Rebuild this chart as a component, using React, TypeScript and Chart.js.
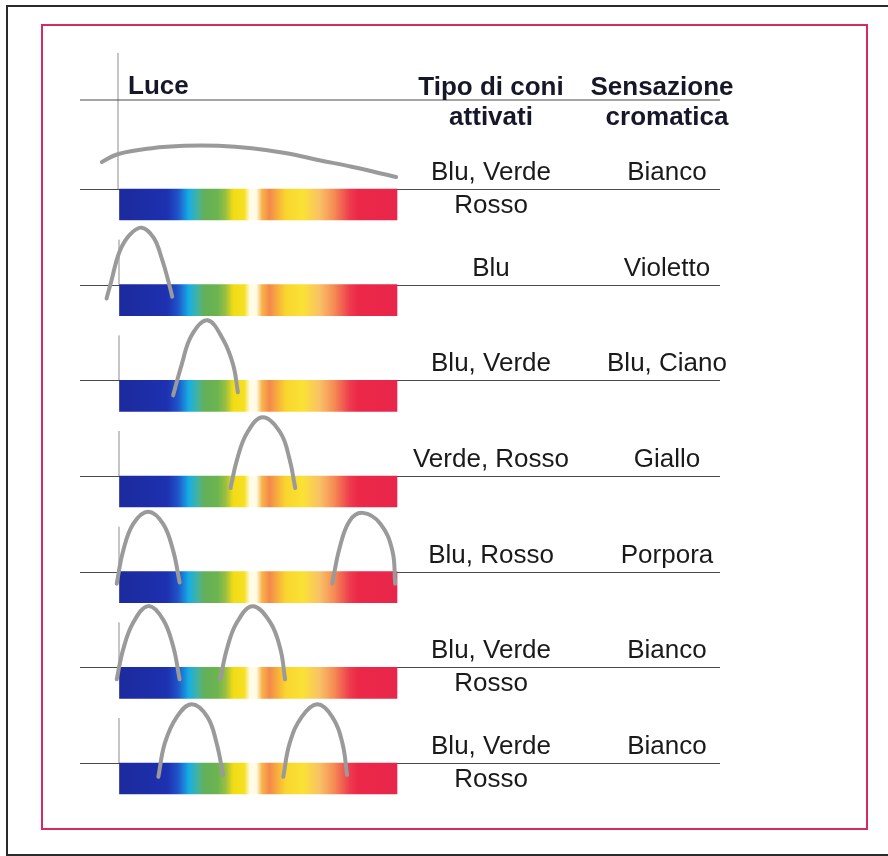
import React, { useEffect, useRef } from "react";
import { Chart, registerables } from "chart.js";

Chart.register(...registerables);

// ---------- data ----------
const HEADER_LIGHT = "Luce";
const HEADER_CONES = ["Tipo di coni", "attivati"];
const HEADER_SENSATION = ["Sensazione", "cromatica"];

const ROW_CONES = ["Blu, Verde", "Blu", "Blu, Verde", "Verde, Rosso", "Blu, Rosso", "Blu, Verde", "Blu, Verde"];
const ROW_CONES_2 = ["Rosso", "", "", "", "", "Rosso", "Rosso"];
const ROW_SENSATION = ["Bianco", "Violetto", "Blu, Ciano", "Giallo", "Porpora", "Bianco", "Bianco"];

// visible spectrum (nm)
const SPECTRUM_START = 400;
const SPECTRUM_END = 700;
const SPECTRUM_NM = [400, 451, 463, 475, 485, 492, 506, 515, 523, 535, 541, 548, 554, 562, 580, 598, 616, 631, 649, 658, 700];
const SPECTRUM_COLORS = [
  "#1c2a9c", "#1d30b0", "#1f52c8", "#16aee4", "#48b39a", "#63b058", "#6cb450", "#9cc040", "#f2dc14",
  "#f7e022", "#fffbe6", "#fffbe6", "#f6b64a", "#f5884a", "#f9d62e", "#fae234", "#f9c266",
  "#f68f55", "#ee3b4e", "#ec2848", "#e8264a",
];

// light stimuli (row index, wavelength nm, relative intensity)
const CURVE_ROWS = [0, 1, 2, 3, 4, 4, 5, 5, 6, 6];
const CURVE_NM = [
  [381, 398, 435, 470, 507, 543, 579, 616, 651, 699],
  [386, 391, 400, 411, 424, 437, 446, 453, 457],
  [458, 467, 478, 495, 512, 523, 528],
  [520, 527, 538, 555, 574, 584, 590],
  [397, 404, 415, 431, 447, 458, 465],
  [630, 638, 649, 663, 682, 695, 698],
  [397, 404, 415, 431, 447, 458, 465],
  [509, 516, 527, 544, 563, 574, 579],
  [442, 449, 462, 478, 495, 505, 512],
  [577, 584, 597, 614, 630, 641, 646],
];
const CURVE_H = [
  [45, 58, 68, 72, 72, 68, 60, 48, 37, 20],
  [-23, 5, 55, 83, 95, 78, 42, 5, -20],
  [-25, 25, 75, 100, 68, 25, -20],
  [-20, 27, 72, 98, 72, 27, -20],
  [-20, 35, 80, 100, 80, 35, -18],
  [-20, 40, 85, 98, 80, 35, -20],
  [-20, 30, 75, 102, 80, 35, -20],
  [-20, 30, 75, 102, 75, 30, -20],
  [-23, 33, 77, 98, 77, 33, -20],
  [-23, 33, 77, 98, 77, 33, -20],
];

// ---------- layout / style ----------
const W = 888;
const H = 856;
const FIRST_LINE_PX = 189;
const ROW_PX = 95.667;
const BAR_H = 31;
const CURVE_SCALE = 0.6 / ROW_PX; // 100 intensity units = 60px
const Y_MIN = -FIRST_LINE_PX / ROW_PX;
const Y_MAX = (H - FIRST_LINE_PX) / ROW_PX;
const SPEC_LEFT_PX = 119.5;
const SPEC_RIGHT_PX = 397;
const PX_PER_NM = (SPEC_RIGHT_PX - SPEC_LEFT_PX) / (SPECTRUM_END - SPECTRUM_START);
const X_MIN = 370;
const X_MAX = 710;
const COL_CONES_X = 491;
const COL_SENS_X = 667;
const LINE_LEFT = 80;
const LINE_RIGHT = 720;
const FONT = "'Liberation Sans', Arial, Helvetica, sans-serif";

const decor = {
  id: "decor",
  beforeDatasetsDraw(chart: any) {
    const ctx = chart.ctx as CanvasRenderingContext2D;
    const ys = chart.scales.y;
    ctx.save();
    // outer frame
    ctx.strokeStyle = "#2a2a2a";
    ctx.lineWidth = 2;
    ctx.beginPath();
    ctx.moveTo(W, 6);
    ctx.lineTo(7, 6);
    ctx.lineTo(7, 855);
    ctx.lineTo(W, 855);
    ctx.stroke();
    // pink frame
    ctx.strokeStyle = "#d92a5f";
    ctx.lineWidth = 2;
    ctx.strokeRect(42, 25, 825, 804);

    // vertical light axis
    ctx.strokeStyle = "#8c8c8c";
    ctx.lineWidth = 1;
    ctx.beginPath();
    ctx.moveTo(118, 53);
    ctx.lineTo(118, FIRST_LINE_PX);
    for (let k = 1; k < ROW_CONES.length; k++) {
      const y = ys.getPixelForValue(k);
      ctx.moveTo(119, y - 45);
      ctx.lineTo(119, y);
    }
    ctx.stroke();

    // header line + row lines
    ctx.strokeStyle = "#4a4a4a";
    ctx.lineWidth = 1.2;
    ctx.beginPath();
    ctx.moveTo(LINE_LEFT, 100);
    ctx.lineTo(LINE_RIGHT, 100);
    ROW_CONES.forEach((_, k) => {
      const y = Math.round(ys.getPixelForValue(k)) + 0.5;
      ctx.moveTo(LINE_LEFT, y);
      ctx.lineTo(LINE_RIGHT, y);
    });
    ctx.stroke();

    // header text
    ctx.fillStyle = "#17172a";
    ctx.font = `bold 26px ${FONT}`;
    ctx.textAlign = "left";
    ctx.textBaseline = "alphabetic";
    ctx.fillText(HEADER_LIGHT, 128, 94);
    ctx.textAlign = "center";
    ctx.fillText(HEADER_CONES[0], COL_CONES_X, 95);
    ctx.fillText(HEADER_CONES[1], COL_CONES_X, 125);
    ctx.fillText(HEADER_SENSATION[0], 662, 95);
    ctx.fillText(HEADER_SENSATION[1], COL_SENS_X, 125);

    // row text
    ctx.fillStyle = "#1a1a1a";
    ctx.font = `26px ${FONT}`;
    ROW_CONES.forEach((t, k) => {
      const y = ys.getPixelForValue(k);
      ctx.fillText(t, COL_CONES_X, y - 9);
      if (ROW_CONES_2[k]) ctx.fillText(ROW_CONES_2[k], COL_CONES_X, y + 24);
      ctx.fillText(ROW_SENSATION[k], COL_SENS_X, y - 9);
    });
    ctx.restore();
  },
};

export default function App() {
  const ref = useRef<HTMLCanvasElement>(null);
  useEffect(() => {
    const canvas = ref.current;
    if (!canvas) return;
    const datasets: any[] = [];
    datasets.push({
      type: "bar",
      indexAxis: "y",
      data: ROW_CONES.map((_, k) => ({ x: [SPECTRUM_START, SPECTRUM_END], y: k + BAR_H / 2 / ROW_PX })),
      backgroundColor: (c: any) => {
        const chart = c.chart;
        if (!chart.chartArea) return SPECTRUM_COLORS[0];
        const xs = chart.scales.x;
        const g = chart.ctx.createLinearGradient(
          xs.getPixelForValue(SPECTRUM_START), 0, xs.getPixelForValue(SPECTRUM_END), 0
        );
        SPECTRUM_NM.forEach((nm, i) =>
          g.addColorStop((nm - SPECTRUM_START) / (SPECTRUM_END - SPECTRUM_START), SPECTRUM_COLORS[i])
        );
        return g;
      },
      borderWidth: 0,
      barThickness: BAR_H,
      order: 1,
    });
    CURVE_NM.forEach((nms, i) => {
      datasets.push({
        type: "line",
        data: nms.map((x, j) => ({ x, y: CURVE_ROWS[i] - CURVE_H[i][j] * CURVE_SCALE })),
        borderColor: "#9a9a9a",
        borderWidth: 4,
        borderCapStyle: "round",
        pointRadius: 0,
        tension: 0.4,
        fill: false,
        clip: false,
        order: 0,
      });
    });
    const chart = new Chart(canvas, {
      type: "bar",
      data: { datasets },
      options: {
        responsive: false,
        animation: false,
        devicePixelRatio: 1,
        layout: {
          padding: {
            left: SPEC_LEFT_PX - (SPECTRUM_START - X_MIN) * PX_PER_NM,
            right: W - SPEC_RIGHT_PX - (X_MAX - SPECTRUM_END) * PX_PER_NM,
            top: 0,
            bottom: 0,
          },
        },
        plugins: { legend: { display: false }, tooltip: { enabled: false } },
        scales: {
          x: { type: "linear", min: X_MIN, max: X_MAX, display: false, offset: false },
          y: { type: "linear", min: Y_MIN, max: Y_MAX, reverse: true, display: false, offset: false },
        },
      } as any,
      plugins: [decor],
    });
    return () => chart.destroy();
  }, []);
  return (
    <div style={{ position: "fixed", left: 0, top: 0, width: W, height: H, background: "#fff" }}>
      <canvas ref={ref} width={W} height={H} style={{ display: "block", width: W, height: H }} />
    </div>
  );
}
